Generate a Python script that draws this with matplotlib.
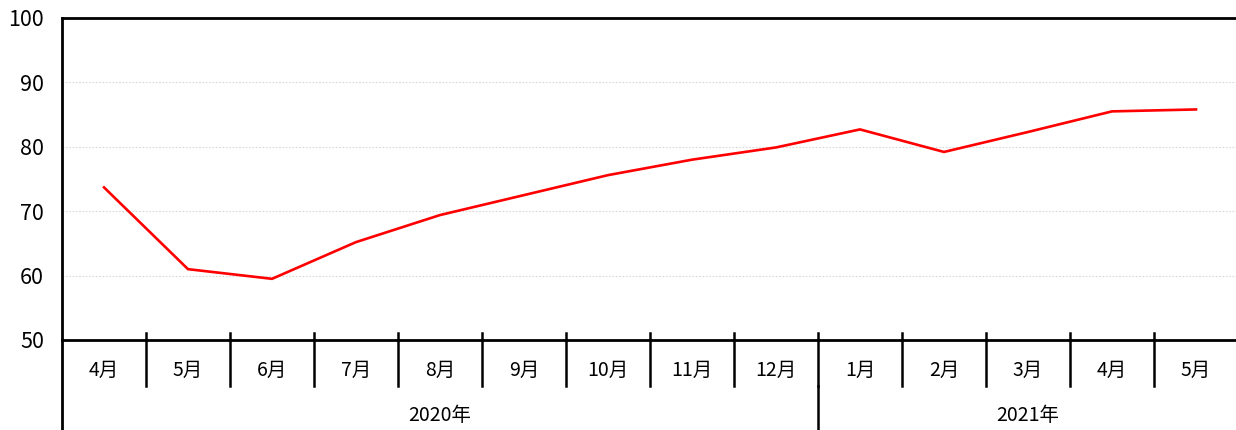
import matplotlib
matplotlib.use('Agg')
import matplotlib.pyplot as plt
import matplotlib.lines as mlines

plt.rcParams['font.family'] = ['Noto Sans CJK JP', 'DejaVu Sans']

months = ['4月', '5月', '6月', '7月', '8月', '9月', '10月', '11月', '12月',
          '1月', '2月', '3月', '4月', '5月']
values = [73.7, 61.0, 59.5, 65.2, 69.4, 72.5, 75.6, 78.0, 79.9,
          82.7, 79.2, 82.3, 85.5, 85.8]
years = ['2020年', '2021年']
year_counts = [9, 5]


def main():
    fig = plt.figure(figsize=(12.36, 4.30), dpi=100)
    ax = fig.add_axes([62/1236, 90/430, 1176/1236, 322/430])

    x = list(range(len(months)))
    ax.plot(x, values, color='#ff0000', linewidth=1.9, solid_joinstyle='miter')

    ax.set_xlim(-0.5, len(months) - 0.5)
    ax.set_ylim(50, 100)
    ax.set_yticks([50, 60, 70, 80, 90, 100])
    ax.tick_params(axis='y', length=0, pad=13, labelsize=15.5)
    ax.set_xticks([])

    for v in [60, 70, 80, 90]:
        ax.axhline(v, color='#d8d8d8', linewidth=0.8, linestyle=(0, (1.5, 1.5)), zorder=0)

    ax.spines['right'].set_visible(False)
    for s in ['top', 'left', 'bottom']:
        ax.spines[s].set_linewidth(2.0)
        ax.spines[s].set_color('black')

    tr = ax.get_xaxis_transform()
    # month dividers
    for k in range(len(months) - 1):
        ax.add_line(mlines.Line2D([k + 0.5, k + 0.5], [0.022, -0.143], transform=tr,
                                  color='black', linewidth=1.8, clip_on=False))
    # month labels
    for i, m in enumerate(months):
        ax.text(i, -0.093, m, transform=tr, ha='center', va='center', fontsize=14)

    # year dividers and labels
    ax.add_line(mlines.Line2D([-0.5, -0.5], [0, -0.35], transform=tr,
                              color='black', linewidth=2.0, clip_on=False))
    start = 0
    for y, c in zip(years, year_counts):
        center = start + (c - 1) / 2
        ax.text(center, -0.236, y, transform=tr, ha='center', va='center', fontsize=14)
        start += c
        if start < len(months):
            ax.add_line(mlines.Line2D([start - 0.5, start - 0.5], [-0.143, -0.35], transform=tr,
                                      color='black', linewidth=1.8, clip_on=False))

    plt.savefig('out.png', dpi=100)


if __name__ == "__main__":
    main()
